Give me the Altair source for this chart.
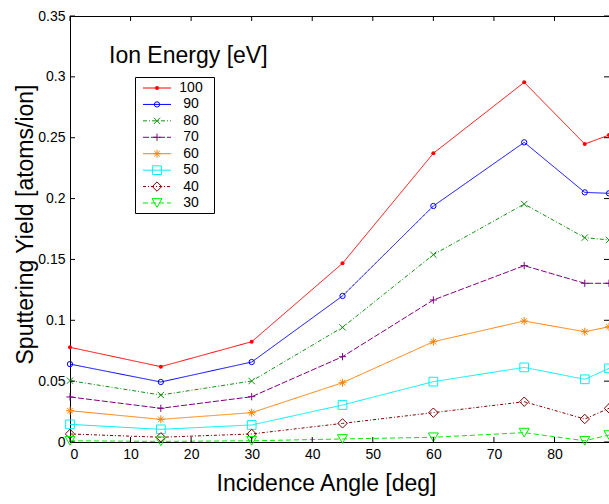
import altair as alt
import pandas as pd

# ---------------- data ----------------
angles = [0, 15, 30, 45, 60, 75, 85, 89]
energies = ["100", "90", "80", "70", "60", "50", "40", "30"]
y100 = [0.0778, 0.0619, 0.0824, 0.1468, 0.2372, 0.2955, 0.2448, 0.2522]
y90 = [0.0640, 0.0493, 0.0657, 0.1200, 0.1939, 0.2462, 0.2051, 0.2043]
y80 = [0.0504, 0.0386, 0.0501, 0.0942, 0.1539, 0.1955, 0.1679, 0.1660]
y70 = [0.0370, 0.0277, 0.0372, 0.0701, 0.1167, 0.1449, 0.1304, 0.1304]
y60 = [0.0257, 0.0186, 0.0241, 0.0487, 0.0824, 0.0994, 0.0906, 0.0947]
y50 = [0.0145, 0.0104, 0.0140, 0.0304, 0.0496, 0.0613, 0.0515, 0.0605]
y40 = [0.0066, 0.0039, 0.0066, 0.0153, 0.0241, 0.0331, 0.0189, 0.0277]
y30 = [0.0010, 0.0005, 0.0010, 0.0025, 0.0039, 0.0077, 0.0010, 0.0057]
x_ticks = [0, 10, 20, 30, 40, 50, 60, 70, 80]
y_ticks = [0, 0.05, 0.1, 0.15, 0.2, 0.25, 0.3, 0.35]

series = [y100, y90, y80, y70, y60, y50, y40, y30]
rows = []
for e, ys in zip(energies, series):
    for a, v in zip(angles, ys):
        rows.append({"energy": e, "angle": a, "yield": v})
df = pd.DataFrame(rows)
legend_df = pd.DataFrame({"energy": energies})
xt_df = pd.DataFrame({"angle": x_ticks})
yt_df = pd.DataFrame({"yield": y_ticks})
one_df = pd.DataFrame({"k": [0]})

# ---------------- styles ----------------
FONT = "Liberation Sans"
colors = ["#ff0000", "#0000ff", "#138f13", "#800080", "#ff8000", "#00f0f8", "#800000", "#00ee00"]
dashes = [[1, 0], [1, 0], [4, 2, 1, 2], [6, 2], [1, 0], [1, 0], [3, 2, 1, 2], [5, 3]]
shapes = [
    "circle",
    "circle",
    "M-1,-1L1,1M-1,1L1,-1",
    "M-1,0L1,0M0,-1L0,1",
    "M-1,0L1,0M0,-1L0,1M-0.7,-0.7L0.7,0.7M-0.7,0.7L0.7,-0.7",
    "square",
    "diamond",
    "triangle-down",
]
sizes = [16, 100, 30, 72, 64, 60, 75, 80]

color_scale = alt.Scale(domain=energies, range=colors)
dash_scale = alt.Scale(domain=energies, range=dashes)
shape_scale = alt.Scale(domain=energies, range=shapes)
size_scale = alt.Scale(domain=energies, range=sizes)

W, H = 539, 426
xscale = alt.Scale(domain=[0, 89], nice=False, zero=False)
yscale = alt.Scale(domain=[0, 0.35], nice=False)

col = alt.Color("energy:N", scale=color_scale, legend=None)
dash = alt.StrokeDash("energy:N", scale=dash_scale, legend=None)
shp = alt.Shape("energy:N", scale=shape_scale, legend=None)
siz = alt.Size("energy:N", scale=size_scale, legend=None)

x_axis = alt.Axis(values=x_ticks, title="Incidence Angle [deg]", grid=False,
                  tickSize=0, labelPadding=5, titleX=256, titleY=48,
                  titleAlign="center", titleBaseline="alphabetic")
y_axis = alt.Axis(values=y_ticks, title="Sputtering Yield [atoms/ion]", grid=False,
                  tickSize=0, labelPadding=5, format="~g", titleX=-45, titleY=208,
                  titleAngle=-90, titleAlign="center", titleBaseline="middle")
X = alt.X("angle:Q", scale=xscale, axis=x_axis)
Y = alt.Y("yield:Q", scale=yscale, axis=y_axis)

lines = alt.Chart(df).mark_line(strokeWidth=1).encode(x=X, y=Y, color=col, strokeDash=dash)
pts = (
    alt.Chart(df)
    .transform_filter("datum.energy != '100'")
    .mark_point(filled=False, strokeWidth=1, opacity=1)
    .encode(x=X, y=Y, color=col, shape=shp, size=siz)
)
dots = (
    alt.Chart(df)
    .transform_filter("datum.energy == '100'")
    .mark_point(filled=True, shape="circle", size=16, opacity=1)
    .encode(x=X, y=Y, color=col)
)

tick_b = alt.Chart(xt_df).mark_rule(color="black", strokeWidth=1).encode(x=X, y=alt.value(H), y2=alt.value(H - 5))
tick_t = alt.Chart(xt_df).mark_rule(color="black", strokeWidth=1).encode(x=X, y=alt.value(0), y2=alt.value(5))
tick_l = alt.Chart(yt_df).mark_rule(color="black", strokeWidth=1).encode(y=Y, x=alt.value(0), x2=alt.value(5))
tick_r = alt.Chart(yt_df).mark_rule(color="black", strokeWidth=1).encode(y=Y, x=alt.value(W), x2=alt.value(W - 5))

main = alt.layer(lines, pts, dots, tick_b, tick_t, tick_l, tick_r)

# ---------------- legend ----------------
ly = alt.Y("energy:N", scale=alt.Scale(type="point", domain=energies, range=[72, 187], padding=0), axis=None)
box = alt.Chart(one_df).mark_rect(fill="white", stroke="black", strokeWidth=1).encode(
    x=alt.value(65.5), x2=alt.value(144.5), y=alt.value(61.5), y2=alt.value(197.5)
)
ltitle = alt.Chart(one_df).mark_text(
    align="left", baseline="alphabetic", fontSize=23, font=FONT, color="black"
).encode(x=alt.value(39), y=alt.value(47), text=alt.value("Ion Energy [eV]"))
llines = alt.Chart(legend_df).mark_rule(strokeWidth=1).encode(
    y=ly, x=alt.value(73), x2=alt.value(101), color=col, strokeDash=dash
)
lpts = (
    alt.Chart(legend_df)
    .transform_filter("datum.energy != '100'")
    .mark_point(filled=False, strokeWidth=1, opacity=1)
    .encode(y=ly, x=alt.value(87), color=col, shape=shp, size=siz)
)
ldot = (
    alt.Chart(legend_df)
    .transform_filter("datum.energy == '100'")
    .mark_point(filled=True, shape="circle", size=16, opacity=1)
    .encode(y=ly, x=alt.value(87), color=col)
)
ltext = alt.Chart(legend_df).mark_text(
    align="center", baseline="middle", fontSize=14, font=FONT, color="black"
).encode(y=ly, x=alt.value(121), text="energy:N")

legend = alt.layer(box, ltitle, llines, lpts, ldot, ltext)

chart = (
    alt.layer(main, legend)
    .resolve_scale(y="independent")
    .properties(
        width=W, height=H, background="white",
        padding={"left": 70, "top": 16, "right": 0, "bottom": 62},
        autosize=alt.AutoSizeParams(type="none"),
    )
    .configure_view(stroke="black", strokeWidth=1)
    .configure_axis(
        labelFont=FONT, titleFont=FONT, labelFontSize=14, titleFontSize=23,
        labelColor="black", titleColor="black", domainColor="black",
        domainWidth=1, titleFontWeight="normal",
    )
)

chart.save("out.html", embed_options={"renderer": "svg", "actions": False})
